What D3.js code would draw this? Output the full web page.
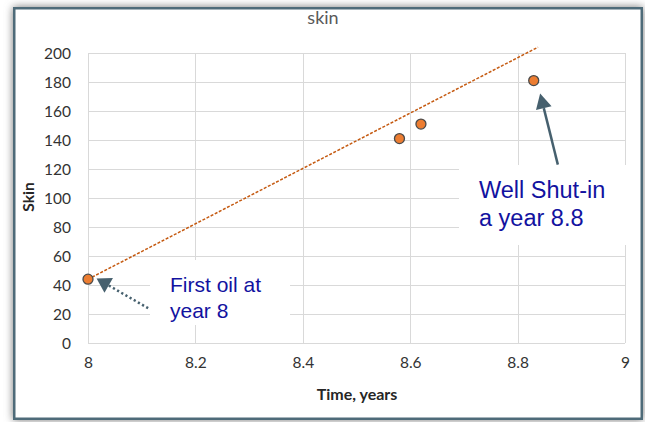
<!DOCTYPE html>
<html><head><meta charset="utf-8">
<script src="https://cdn.jsdelivr.net/npm/d3@7"></script>
<style>html,body{margin:0;padding:0;background:#fff;}svg{display:block;}</style>
</head><body>
<script>
// ---- data ----
const timeYears = [8, 8.58, 8.62, 8.83];
const skinValues = [44, 141, 151, 181];
const trendX = [8, 8.838];
const trendY = [44, 204];
const xTicks = [8, 8.2, 8.4, 8.6, 8.8, 9];
const yTicks = [0, 20, 40, 60, 80, 100, 120, 140, 160, 180, 200];
const chartTitle = "skin";
const xTitle = "Time, years";
const yTitle = "Skin";
const note1Lines = ["First oil at", "year 8"];
const note2Lines = ["Well Shut-in", "a year 8.8"];
// arrow tail/tip in data units
const arrow1 = {x1: 8.112, y1: 24, x2: 8.016, y2: 44.5};
const arrow2 = {x1: 8.875, y1: 123, x2: 8.842, y2: 172};

const W = 645, H = 422;
const svg = d3.select("body").append("svg").attr("width", W).attr("height", H);
const defs = svg.append("defs");
const f = defs.append("filter").attr("id","sh").attr("x","-5%").attr("y","-5%").attr("width","110%").attr("height","110%");
f.append("feGaussianBlur").attr("stdDeviation", 4);

// shadow + frame
svg.append("rect").attr("x",13).attr("y",7).attr("width",630).attr("height",413)
  .attr("fill","#777").attr("filter","url(#sh)");
svg.append("rect").attr("x",14.25).attr("y",8.25).attr("width",627.5).attr("height",410.5)
  .attr("fill","#fff").attr("stroke","#4e6b79").attr("stroke-width",2.5);

const x = d3.scaleLinear().domain([8, 9]).range([88, 625]);
const y = d3.scaleLinear().domain([0, 200]).range([343, 53]);

const font = "Lato, 'Open Sans', sans-serif";

// gridlines
const g = svg.append("g");
g.selectAll("line.h").data(yTicks).join("line")
  .attr("x1", x(8)).attr("x2", x(9))
  .attr("y1", d => Math.round(y(d)) + 0.5).attr("y2", d => Math.round(y(d)) + 0.5)
  .attr("stroke", "#d9d9d9").attr("stroke-width", 1);
g.selectAll("line.v").data(xTicks).join("line")
  .attr("y1", y(0)).attr("y2", y(200))
  .attr("x1", d => Math.round(x(d)) + 0.5).attr("x2", d => Math.round(x(d)) + 0.5)
  .attr("stroke", "#d9d9d9").attr("stroke-width", 1);

// axes (labels only)
const yAxis = d3.axisLeft(y).tickValues(yTicks).tickSize(0).tickPadding(0);
const ya = svg.append("g").attr("transform", `translate(71,0)`).call(yAxis);
ya.select(".domain").remove();
ya.selectAll("text").attr("font-family", font).attr("font-size", 15.5).attr("fill", "#333").attr("dy","0.35em");

const xAxis = d3.axisBottom(x).tickValues(xTicks).tickSize(0).tickPadding(0).tickFormat(d3.format("~g"));
const xa = svg.append("g").attr("transform", `translate(0,357)`).call(xAxis);
xa.select(".domain").remove();
xa.selectAll("text").attr("font-family", font).attr("font-size", 15.5).attr("fill", "#333").attr("dy","0.71em");

// titles
svg.append("text").attr("x", 323).attr("y", 24).attr("text-anchor","middle")
  .attr("font-family", font).attr("font-size", 18).attr("fill","#595959").text(chartTitle);
svg.append("text").attr("x", 357).attr("y", 400).attr("text-anchor","middle")
  .attr("font-family", font).attr("font-size", 16).attr("font-weight","bold").attr("fill","#262626").text(xTitle);
svg.append("text").attr("transform","translate(34,197) rotate(-90)").attr("text-anchor","middle")
  .attr("font-family", font).attr("font-size", 15.5).attr("font-weight","bold").attr("fill","#262626").text(yTitle);

// trendline
svg.append("path").datum(trendX.map((d,i)=>[d, trendY[i]]))
  .attr("d", d3.line().x(d=>x(d[0])).y(d=>y(d[1])))
  .attr("fill","none").attr("stroke","#c55a11").attr("stroke-width",1.5).attr("stroke-dasharray","3,1.6");

// points
svg.selectAll("circle.pt").data(timeYears.map((d,i)=>[d, skinValues[i]])).join("circle")
  .attr("cx", d=>x(d[0])).attr("cy", d=>y(d[1])).attr("r", 5)
  .attr("fill","#ed7d31").attr("stroke","#4a4a4a").attr("stroke-width",1.3);

// annotation boxes
svg.append("rect").attr("x",150).attr("y",260).attr("width",140).attr("height",65).attr("fill","#fff");
svg.append("rect").attr("x",459).attr("y",165).attr("width",181).attr("height",80).attr("fill","#fff");

const noteFont = "'Liberation Sans', Arial, sans-serif";
const t1 = svg.append("text").attr("font-family", noteFont).attr("font-size", 21).attr("fill","#1212a0");
note1Lines.forEach((s,i)=> t1.append("tspan").attr("x",170).attr("y", 292 + i*25.5).text(s));
const t2 = svg.append("text").attr("font-family", noteFont).attr("font-size", 23.5).attr("fill","#1212a0");
note2Lines.forEach((s,i)=> t2.append("tspan").attr("x",479).attr("y", 197.5 + i*28.2).text(s));

// arrows
const arrowCol = "#46606e";
function arrowHead(a, len, wid) {
  const x1 = x(a.x1), y1 = y(a.y1), x2 = x(a.x2), y2 = y(a.y2);
  const dx = x2 - x1, dy = y2 - y1, L = Math.hypot(dx, dy);
  const ux = dx / L, uy = dy / L;
  const bx = x2 - ux * len, by = y2 - uy * len;
  return {base: [bx, by], pts: [[x2, y2], [bx - uy * wid, by + ux * wid], [bx + uy * wid, by - ux * wid]]};
}
const h1 = arrowHead(arrow1, 14, 8.5);
svg.append("line").attr("x1", x(arrow1.x1)).attr("y1", y(arrow1.y1)).attr("x2", h1.base[0]).attr("y2", h1.base[1])
  .attr("stroke", arrowCol).attr("stroke-width", 2.5).attr("stroke-dasharray","2.2,2.6");
svg.append("polygon").attr("points", h1.pts.map(p=>p.join(",")).join(" ")).attr("fill", arrowCol);

const h2 = arrowHead(arrow2, 15, 8);
svg.append("line").attr("x1", x(arrow2.x1)).attr("y1", y(arrow2.y1)).attr("x2", h2.base[0]).attr("y2", h2.base[1])
  .attr("stroke", arrowCol).attr("stroke-width", 2.5);
svg.append("polygon").attr("points", h2.pts.map(p=>p.join(",")).join(" ")).attr("fill", arrowCol);
</script>
</body></html>
